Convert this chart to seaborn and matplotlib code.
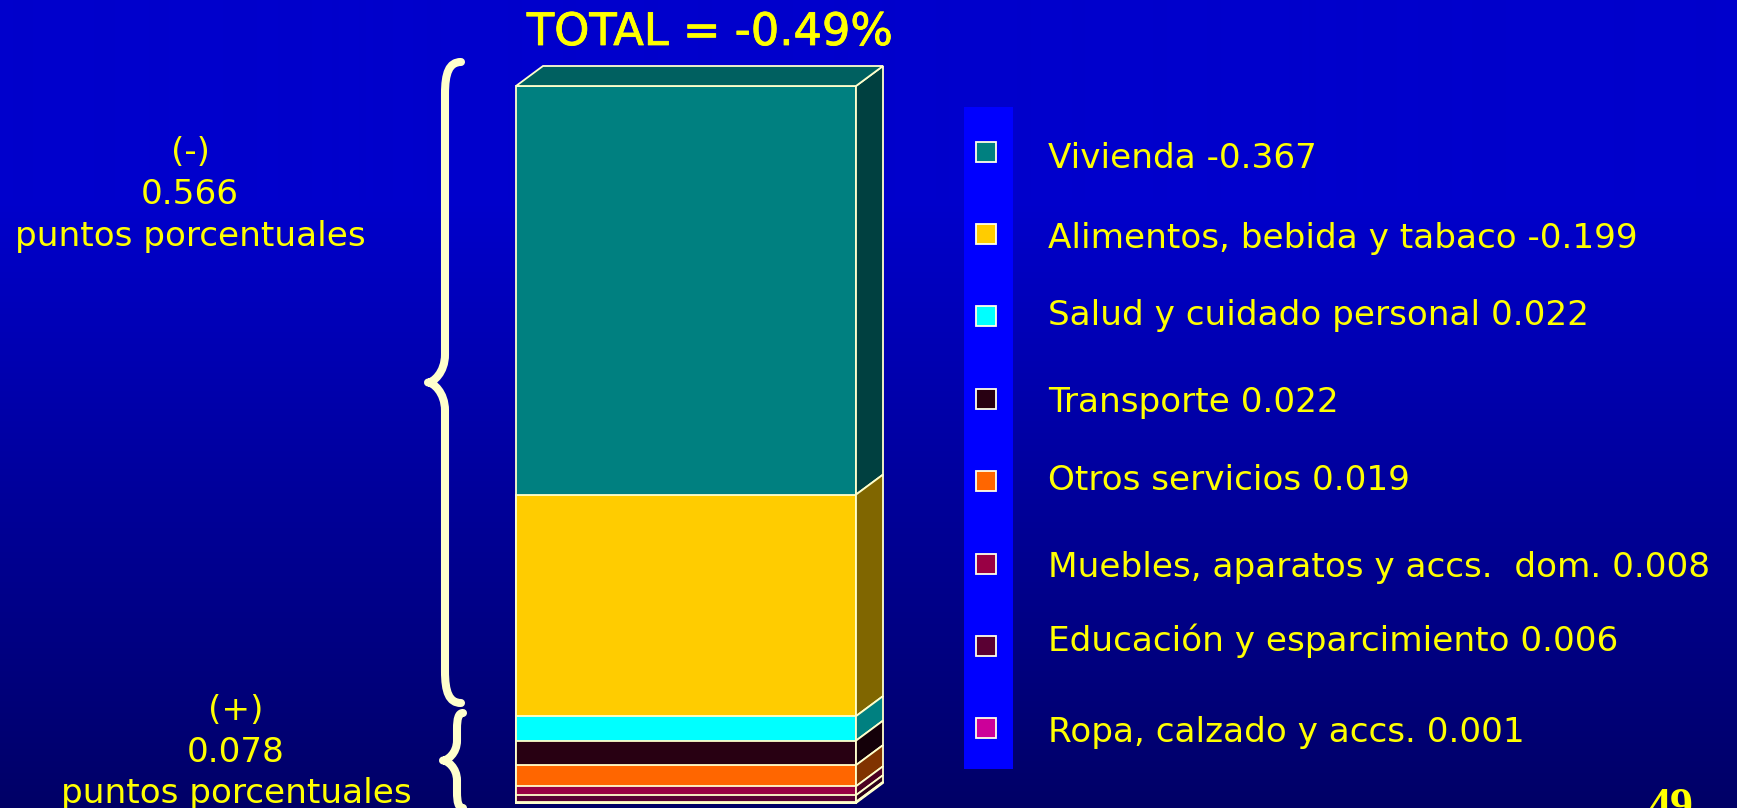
import numpy as np
import pandas as pd
import matplotlib
matplotlib.use("Agg")
import matplotlib.pyplot as plt
import matplotlib.patheffects as pe
from matplotlib.patches import Polygon, Rectangle, PathPatch
from matplotlib.path import Path
import seaborn as sns

# ---------------------------------------------------------------------------
# Data: contribution of each group to the monthly change (percentage points)
# ---------------------------------------------------------------------------
categories = [
    "Vivienda",
    "Alimentos, bebida y tabaco",
    "Salud y cuidado personal",
    "Transporte",
    "Otros servicios",
    "Muebles, aparatos y accs.  dom.",
    "Educación y esparcimiento",
    "Ropa, calzado y accs.",
]
values = [-0.367, -0.199, 0.022, 0.022, 0.019, 0.008, 0.006, 0.001]

front_colors = ["#008080", "#FFCC00", "#00FFFF", "#280012",
                "#FF6600", "#990044", "#5A0033", "#CC0099"]
side_colors = ["#004040", "#806600", "#008080", "#140009",
               "#803300", "#4C0022", "#2D001A", "#66004C"]
top_color = "#006060"
page_number = "49"

# ---------------------------------------------------------------------------
# Styling
# ---------------------------------------------------------------------------
sns.set_theme(style="white")
plt.rcParams["font.family"] = ["DejaVu Sans"]

W, H, DPI = 1737, 808, 100
YELLOW = "#FFFF00"
CREAM = "#FFFFCC"
TXT = 24.7

fig = plt.figure(figsize=(W / DPI, H / DPI), dpi=DPI)

# Background layer in pixel coordinates (y grows downward)
bg = fig.add_axes([0, 0, 1, 1])
bg.set_xlim(0, W)
bg.set_ylim(H, 0)
bg.axis("off")

rows = np.arange(H)
top_rgb = np.array([0, 0, 204]) / 255
bot_rgb = np.array([0, 0, 102]) / 255
t = np.clip((rows - 200) / (H - 200), 0, 1)[:, None]
grad = (1 - t) * top_rgb + t * bot_rgb
bg.imshow(grad[:, None, :], extent=(0, W, H, 0), aspect="auto",
          interpolation="bilinear", zorder=0)

# ---------------------------------------------------------------------------
# Stacked bar (magnitudes), drawn with seaborn as overlapping cumulative bars
# ---------------------------------------------------------------------------
heights = np.abs(np.array(values))
n = len(categories)
tops = np.zeros(n)
bottoms = np.zeros(n)
running = 0.0
for i in reversed(range(n)):          # last group sits at the bottom
    bottoms[i] = running
    running += heights[i]
    tops[i] = running
total_height = running

df = pd.DataFrame({"grupo": ["INPC"] * n,
                   "categoria": categories,
                   "acumulado": tops})

ax = fig.add_axes([0, 0, 1, 1])
sns.barplot(data=df, x="grupo", y="acumulado", hue="categoria",
            hue_order=categories, palette=front_colors, dodge=False,
            saturation=1, width=0.8, errorbar=None, legend=False,
            edgecolor=CREAM, linewidth=1.3, ax=ax)

# Map the axis so the bar front spans x 516..856 px and y 803..86 px
bar_left_px, bar_right_px = 516, 856
base_px, top_px = 803, 86
px_per_x = (bar_right_px - bar_left_px) / 0.8
px_per_y = (base_px - top_px) / total_height
ax.set_xlim(-0.4 - bar_left_px / px_per_x, 0.4 + (W - bar_right_px) / px_per_x)
ax.set_ylim(-(H - base_px) / px_per_y, base_px / px_per_y)
ax.axis("off")

# Depth of the 3-D extrusion
dxd = 27 / px_per_x
dyd = 20 / px_per_y
for i in range(n):
    b, tp = bottoms[i], tops[i]
    side = Polygon([(0.4, b), (0.4 + dxd, b + dyd), (0.4 + dxd, tp + dyd), (0.4, tp)],
                   closed=True, facecolor=side_colors[i], edgecolor=CREAM,
                   linewidth=1.3, zorder=3)
    ax.add_patch(side)
top_face = Polygon([(-0.4, total_height), (-0.4 + dxd, total_height + dyd),
                    (0.4 + dxd, total_height + dyd), (0.4, total_height)],
                   closed=True, facecolor=top_color, edgecolor=CREAM,
                   linewidth=1.3, zorder=3)
ax.add_patch(top_face)

# ---------------------------------------------------------------------------
# Title
# ---------------------------------------------------------------------------
total = sum(values)
bg.text(710, 45, f"TOTAL = {total:.2f}%", color=YELLOW, fontsize=32.2,
        ha="center", va="baseline", zorder=5,
        path_effects=[pe.withStroke(linewidth=0.6, foreground=YELLOW)])

# ---------------------------------------------------------------------------
# Braces and side annotations
# ---------------------------------------------------------------------------
def brace(x_end, x_v, x_tip, y0, y1, h_end, h_mid):
    ym = (y0 + y1) / 2
    verts = [
        (x_end, y0),
        (x_v + 0.25 * (x_end - x_v), y0), (x_v, y0 + 0.35 * h_end), (x_v, y0 + h_end),
        (x_v, ym - h_mid),
        (x_v, ym - 0.35 * h_mid), (x_tip + 0.3 * (x_v - x_tip), ym), (x_tip, ym),
        (x_tip + 0.3 * (x_v - x_tip), ym), (x_v, ym + 0.35 * h_mid), (x_v, ym + h_mid),
        (x_v, y1 - h_end),
        (x_v, y1 - 0.35 * h_end), (x_v + 0.25 * (x_end - x_v), y1), (x_end, y1),
    ]
    codes = [Path.MOVETO, Path.CURVE4, Path.CURVE4, Path.CURVE4, Path.LINETO,
             Path.CURVE4, Path.CURVE4, Path.CURVE4, Path.CURVE4, Path.CURVE4,
             Path.CURVE4, Path.LINETO, Path.CURVE4, Path.CURVE4, Path.CURVE4]
    patch = PathPatch(Path(verts, codes), facecolor="none", edgecolor=CREAM,
                      linewidth=5.8, capstyle="round", joinstyle="round", zorder=4)
    bg.add_patch(patch)

brace(461, 445, 428, 62, 703, 32, 28)
brace(463, 457, 443, 713, 808, 16, 20)

neg_sum = -sum(v for v in values if v < 0)
pos_sum = sum(v for v in values if v > 0)
for (x, ys, sign, amount) in [(190, (162, 204, 246), "(-)", neg_sum),
                              (236, (720, 762, 803), "(+)", pos_sum)]:
    for y, s in zip(ys, [sign, f"{amount:.3f}", "puntos porcentuales"]):
        bg.text(x, y, s, color=YELLOW, fontsize=TXT, ha="center",
                va="baseline", zorder=5)

# ---------------------------------------------------------------------------
# Legend: bright strip with swatches, labels on the background
# ---------------------------------------------------------------------------
bg.add_patch(Rectangle((964, 107), 49, 662, facecolor="#0000FF",
                       edgecolor="none", zorder=2))
swatch_y0, swatch_step = 151.5, 82.4
label_baselines = [168, 248, 325, 412, 490, 577, 651, 742]
for i, (cat, val) in enumerate(zip(categories, values)):
    cy = swatch_y0 + i * swatch_step
    bg.add_patch(Rectangle((976, cy - 10), 20, 20, facecolor=front_colors[i],
                           edgecolor="#FFFFE8", linewidth=1.3, zorder=3))
    bg.text(1048, label_baselines[i], f"{cat} {val:.3f}", color=YELLOW,
            fontsize=TXT, ha="left", va="baseline", zorder=5)

bg.text(1670, 820, page_number, color=YELLOW, fontsize=33,
        family=["Liberation Serif", "DejaVu Serif"], fontweight="bold",
        ha="center", va="baseline", zorder=5)

fig.savefig("out.png", dpi=DPI)
